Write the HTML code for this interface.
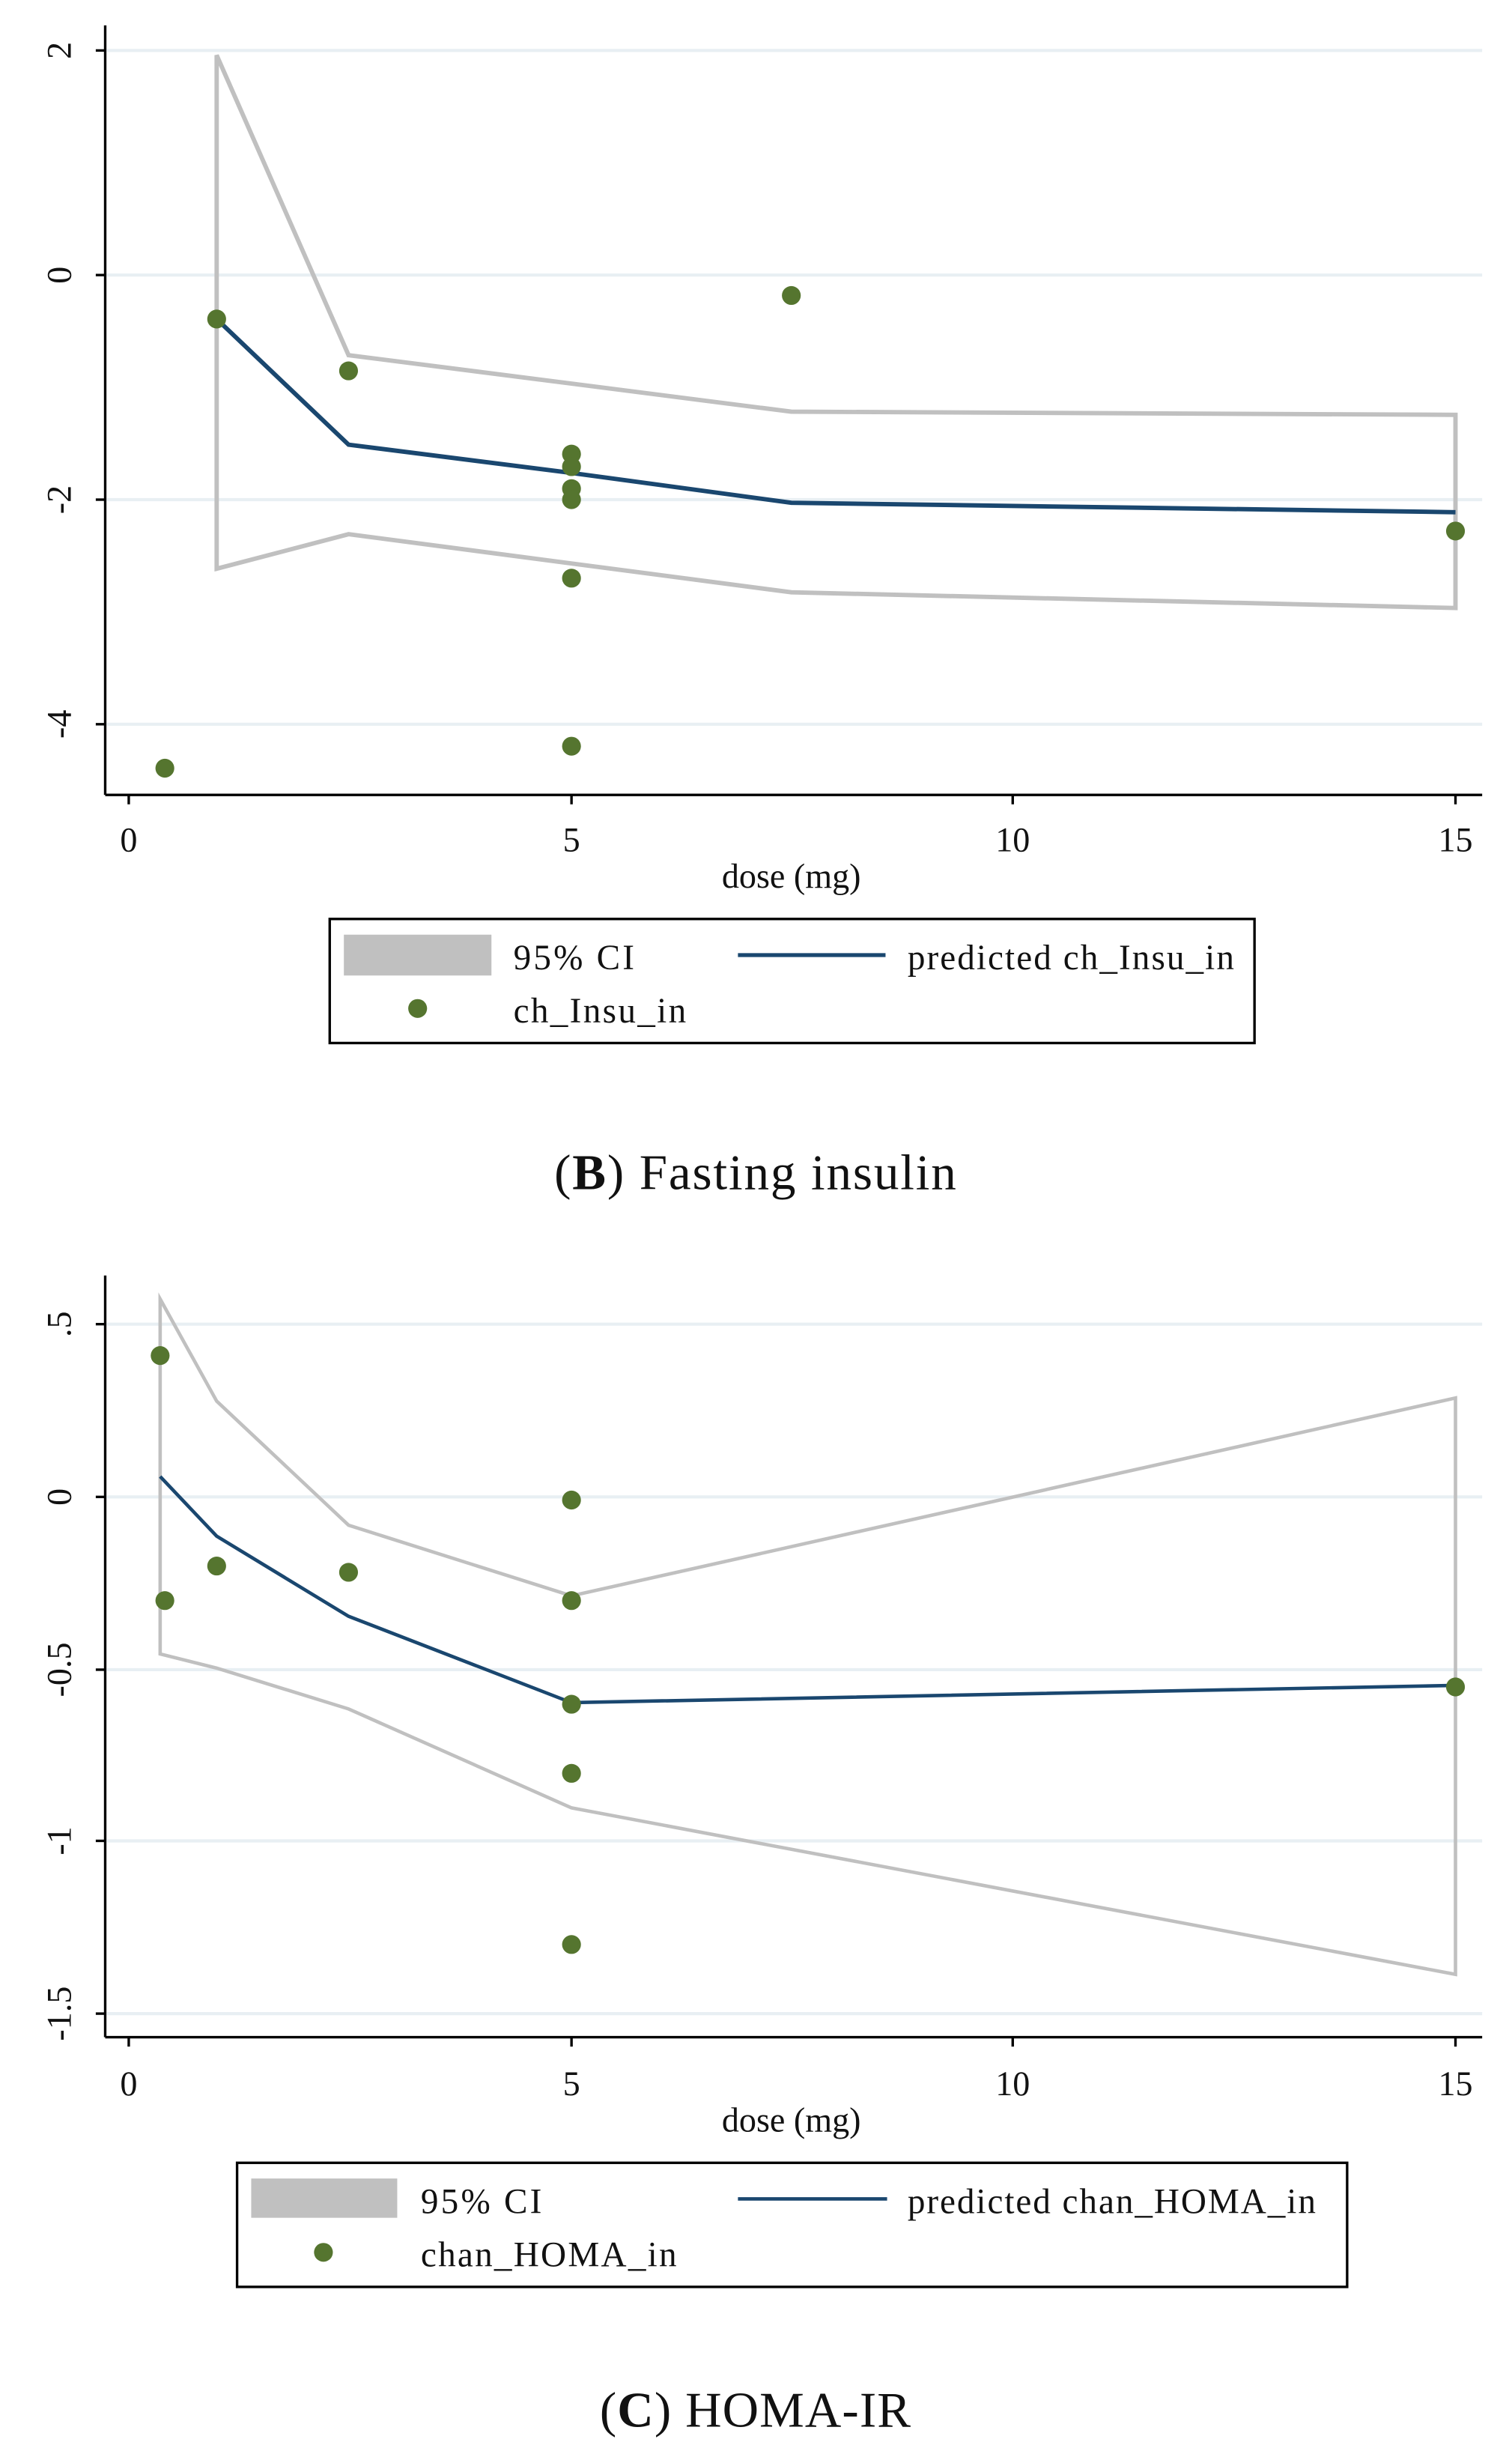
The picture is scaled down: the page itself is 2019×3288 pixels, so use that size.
<!DOCTYPE html>
<html><head><meta charset="utf-8"><style>html,body{margin:0;padding:0;background:#fff}svg{display:block}text{font-family:"Liberation Serif",serif;fill:#111}</style></head>
<body>
<svg width="2019" height="3288" viewBox="0 0 963 1568" xmlns="http://www.w3.org/2000/svg">
<g stroke="#e8eff3" stroke-width="2">
<line x1="68" y1="32" x2="944" y2="32"/><line x1="68" y1="175" x2="944" y2="175"/><line x1="68" y1="318" x2="944" y2="318"/><line x1="68" y1="461" x2="944" y2="461"/>
</g>
<polygon points="138,35 222,226 504,262 927,264 927,387 504,377 222,340 138,362" fill="none" stroke="#c0c0c0" stroke-width="2.8"/>
<polyline points="138,203 222,283 364,301 504,320 927,326" fill="none" stroke="#1a476f" stroke-width="2.8"/>
<g fill="#55752f">
<circle cx="105" cy="489" r="6"/><circle cx="138" cy="203" r="6"/><circle cx="222" cy="236" r="6"/><circle cx="504" cy="188" r="6"/><circle cx="364" cy="289" r="6"/><circle cx="364" cy="297" r="6"/><circle cx="364" cy="311" r="6"/><circle cx="364" cy="318" r="6"/><circle cx="364" cy="368" r="6"/><circle cx="364" cy="475" r="6"/><circle cx="927" cy="338" r="6"/>
</g>
<g stroke="#000" stroke-width="1.6"><line x1="67" y1="16" x2="67" y2="506"/><line x1="67" y1="506" x2="944" y2="506"/>
<line x1="61" y1="32" x2="67" y2="32"/><line x1="61" y1="175" x2="67" y2="175"/><line x1="61" y1="318" x2="67" y2="318"/><line x1="61" y1="461" x2="67" y2="461"/>
<line x1="82" y1="506" x2="82" y2="512"/><line x1="364" y1="506" x2="364" y2="512"/><line x1="645" y1="506" x2="645" y2="512"/><line x1="927" y1="506" x2="927" y2="512"/></g>
<g font-size="22" text-anchor="middle">
<text transform="translate(45,32) rotate(-90)">2</text><text transform="translate(45,175) rotate(-90)">0</text><text transform="translate(45,318) rotate(-90)">-2</text><text transform="translate(45,461) rotate(-90)">-4</text>
<text x="82" y="542">0</text><text x="364" y="542">5</text><text x="645" y="542">10</text><text x="927" y="542">15</text>
<text x="504" y="565">dose (mg)</text></g>
<rect x="210" y="585" width="589" height="79" fill="none" stroke="#000" stroke-width="1.6"/>
<rect x="219" y="595" width="94" height="26" fill="#c0c0c0"/>
<line x1="470" y1="608" x2="564" y2="608" stroke="#1a476f" stroke-width="2.5"/>
<circle cx="266" cy="642" r="6" fill="#55752f"/>
<g font-size="22.5"><text x="327" y="617" textLength="77">95% CI</text><text x="578" y="617" textLength="208">predicted ch_Insu_in</text><text x="327" y="651" textLength="110">ch_Insu_in</text></g>
<text x="481" y="757" font-size="32" text-anchor="middle" textLength="256">(<tspan font-weight="bold">B</tspan>) Fasting insulin</text>

<g stroke="#e8eff3" stroke-width="2">
<line x1="68" y1="843" x2="944" y2="843"/><line x1="68" y1="953" x2="944" y2="953"/><line x1="68" y1="1063" x2="944" y2="1063"/><line x1="68" y1="1172" x2="944" y2="1172"/><line x1="68" y1="1282" x2="944" y2="1282"/>
</g>
<polygon points="102,827 138,892 222,971 364,1016 927,890 927,1257 364,1151 222,1088 138,1062 102,1053" fill="none" stroke="#c0c0c0" stroke-width="2.2"/>
<polyline points="102,940 138,978 222,1029 364,1084 927,1073" fill="none" stroke="#1a476f" stroke-width="2.2"/>
<g fill="#55752f">
<circle cx="102" cy="863" r="6"/><circle cx="105" cy="1019" r="6"/><circle cx="138" cy="997" r="6"/><circle cx="222" cy="1001" r="6"/><circle cx="364" cy="955" r="6"/><circle cx="364" cy="1019" r="6"/><circle cx="364" cy="1085" r="6"/><circle cx="364" cy="1129" r="6"/><circle cx="364" cy="1238" r="6"/><circle cx="927" cy="1074" r="6"/>
</g>
<g stroke="#000" stroke-width="1.6"><line x1="67" y1="812" x2="67" y2="1297"/><line x1="67" y1="1297" x2="944" y2="1297"/>
<line x1="61" y1="843" x2="67" y2="843"/><line x1="61" y1="953" x2="67" y2="953"/><line x1="61" y1="1063" x2="67" y2="1063"/><line x1="61" y1="1172" x2="67" y2="1172"/><line x1="61" y1="1282" x2="67" y2="1282"/>
<line x1="82" y1="1297" x2="82" y2="1303"/><line x1="364" y1="1297" x2="364" y2="1303"/><line x1="645" y1="1297" x2="645" y2="1303"/><line x1="927" y1="1297" x2="927" y2="1303"/></g>
<g font-size="22" text-anchor="middle">
<text transform="translate(45,843) rotate(-90)">.5</text><text transform="translate(45,953) rotate(-90)">0</text><text transform="translate(45,1063) rotate(-90)">-0.5</text><text transform="translate(45,1172) rotate(-90)">-1</text><text transform="translate(45,1282) rotate(-90)">-1.5</text>
<text x="82" y="1334">0</text><text x="364" y="1334">5</text><text x="645" y="1334">10</text><text x="927" y="1334">15</text>
<text x="504" y="1357">dose (mg)</text></g>
<rect x="151" y="1377" width="707" height="79" fill="none" stroke="#000" stroke-width="1.6"/>
<rect x="160" y="1387" width="93" height="25" fill="#c0c0c0"/>
<line x1="470" y1="1400" x2="565" y2="1400" stroke="#1a476f" stroke-width="2.2"/>
<circle cx="206" cy="1434" r="6" fill="#55752f"/>
<g font-size="22.5"><text x="268" y="1409" textLength="77">95% CI</text><text x="578" y="1409" textLength="260">predicted chan_HOMA_in</text><text x="268" y="1443" textLength="163">chan_HOMA_in</text></g>
<text x="481" y="1545" font-size="32" text-anchor="middle" textLength="198">(<tspan font-weight="bold">C</tspan>) HOMA-IR</text>
</svg>
</body></html>
